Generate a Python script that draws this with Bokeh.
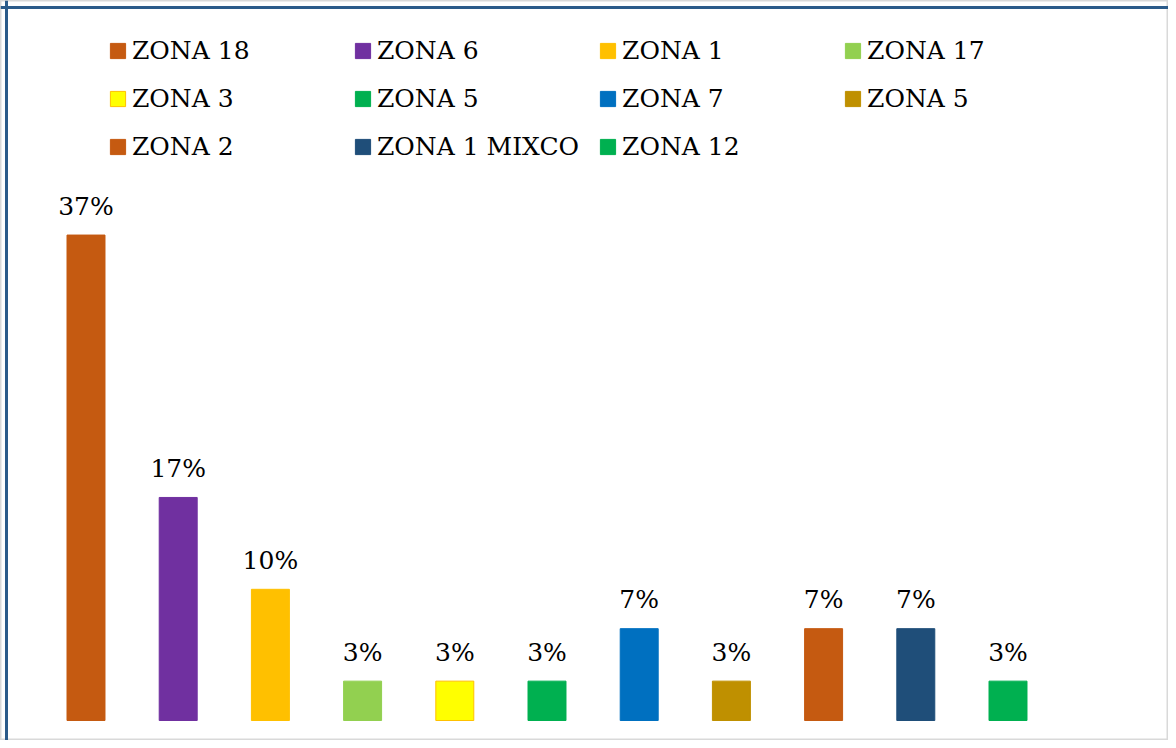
from bokeh.plotting import figure
from bokeh.models import ColumnDataSource, Range1d, Legend, LegendItem, Span
from bokeh.core.properties import value
from bokeh.embed import file_html
from bokeh.resources import INLINE

# ---- data ----
zones = ["ZONA 18", "ZONA 6", "ZONA 1", "ZONA 17", "ZONA 3", "ZONA 5",
         "ZONA 7", "ZONA 5", "ZONA 2", "ZONA 1 MIXCO", "ZONA 12"]
percent = [37, 17, 10, 3, 3, 3, 7, 3, 7, 7, 3]
labels = [f"{v}%" for v in percent]
colors = ["#C55A11", "#7030A0", "#FFC000", "#92D050", "#FFFF00", "#00B050",
          "#0070C0", "#BF9000", "#C55A11", "#1F4E79", "#00B050"]
edge_colors = ["#C55A11", "#7030A0", "#FFC000", "#92D050", "#FFC000", "#00B050",
               "#0070C0", "#BF9000", "#C55A11", "#1F4E79", "#00B050"]

W, H = 1168, 740
FONT = "DejaVu Serif"
FSIZE = "25px"

x_px = 92.2          # pixels per category step
x0_px = 85.5         # first bar centre (px from left)
y_px = 13.12         # pixels per percent
y0_px = H - 720.0    # baseline px from bottom

x_start = -x0_px / x_px
y_start = -y0_px / y_px

p = figure(width=W, height=H, output_backend="svg", toolbar_location=None,
           x_range=Range1d(x_start, x_start + W / x_px),
           y_range=Range1d(y_start, y_start + H / y_px),
           min_border=0, title=None)
p.xaxis.visible = False
p.yaxis.visible = False
p.grid.visible = False
p.background_fill_color = "white"
p.border_fill_color = "white"
p.outline_line_color = "#D9D9D9"
p.outline_line_width = 2

src = ColumnDataSource(dict(x=list(range(len(zones))), top=percent,
                            color=colors, edge=edge_colors, label=labels,
                            zone=zones))

bars = p.vbar(x="x", top="top", bottom=0, width=0.412, source=src,
              fill_color="color", line_color="edge", line_width=1)

p.text(x="x", y="top", text="label", source=src,
       text_font=value(FONT), text_font_size=FSIZE, text_color="black",
       text_align="center", text_baseline="alphabetic", y_offset=-29)

# frame border (blue on top and left)
p.add_layout(Span(location=y_start + (H - 7) / y_px, dimension="width",
                  line_color="#2B5B8A", line_width=3))
p.add_layout(Span(location=x_start + 6 / x_px, dimension="height",
                  line_color="#2B5B8A", line_width=3))

items = [LegendItem(label=z, renderers=[bars], index=i) for i, z in enumerate(zones)]
legend = Legend(items=items, orientation="horizontal", ncols=4,
                location=(108, H - 161), margin=0, padding=0,
                glyph_width=19, glyph_height=19, label_standoff=5,
                label_width=202, spacing=19,
                label_text_font=FONT, label_text_font_size=FSIZE,
                label_text_color="black",
                border_line_color=None, background_fill_alpha=0)
p.add_layout(legend, "center")

open("out.html", "w").write(file_html(p, INLINE))
